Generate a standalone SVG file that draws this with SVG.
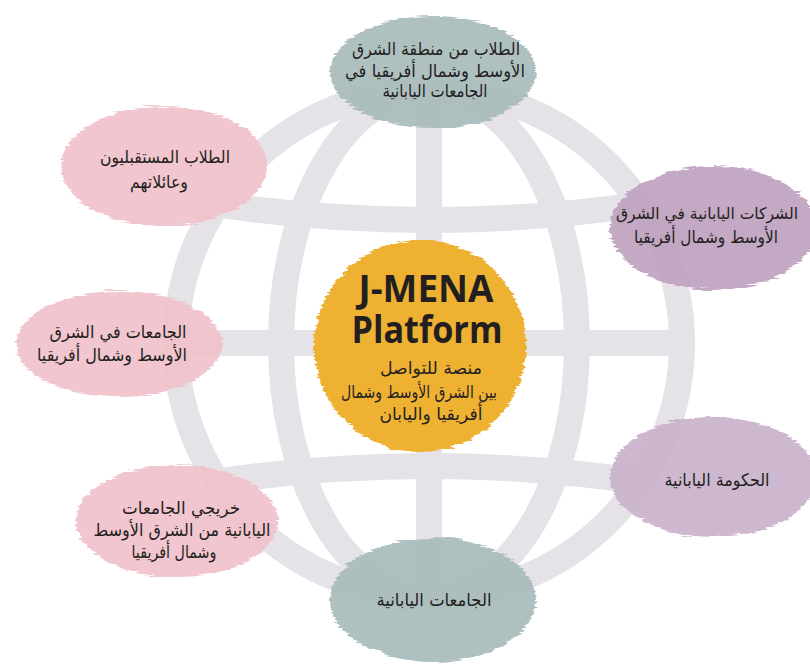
<svg xmlns="http://www.w3.org/2000/svg" width="810" height="666" viewBox="0 0 810 666">
<defs>
<style>
.g{fill:none;stroke:#e5e2e8;stroke-width:26}
.ar{font-family:"DejaVu Sans",sans-serif;font-size:17.5px;fill:#231f20;text-anchor:middle}
.teal{fill:#a8bbbc;fill-opacity:0.92}
.pink{fill:#f0c1cb;fill-opacity:0.92}
.pur1{fill:#bea2c0;fill-opacity:0.93}
.pur2{fill:#cab3cb;fill-opacity:0.93}
.title{font-family:"Open Sans","DejaVu Sans",sans-serif;font-weight:bold;font-size:37px;fill:#231f20;text-anchor:middle}
</style>
<filter id="rough" x="-10%" y="-15%" width="120%" height="130%">
<feTurbulence type="fractalNoise" baseFrequency="0.03 0.45" numOctaves="2" seed="4" result="n"/>
<feDisplacementMap in="SourceGraphic" in2="n" scale="7" xChannelSelector="R" yChannelSelector="G"/>
</filter>
</defs>
<rect width="810" height="666" fill="#ffffff"/>
<g id="globe">
<circle class="g" cx="429" cy="343" r="253"/>
<ellipse class="g" cx="429" cy="343" rx="148" ry="253"/>
<line class="g" x1="429" y1="92" x2="429" y2="594"/>
<line class="g" x1="168" y1="343" x2="690" y2="343"/>
<path class="g" d="M214,204 Q429,236 644,204"/>
<path class="g" d="M214,482 Q429,450 644,482"/>
</g>
<g id="connectors"></g>
<g id="n-top">
<ellipse class="teal" filter="url(#rough)" cx="433" cy="72" rx="103" ry="56"/>
<text class="ar" x="436" y="55" textLength="168" lengthAdjust="spacingAndGlyphs">الطلاب من منطقة الشرق</text>
<text class="ar" x="435" y="77" textLength="180" lengthAdjust="spacingAndGlyphs">الأوسط وشمال أفريقيا في</text>
<text class="ar" x="435" y="97" textLength="105" lengthAdjust="spacingAndGlyphs">الجامعات اليابانية</text>
</g>
<g id="n-future">
<ellipse class="pink" filter="url(#rough)" cx="164" cy="166" rx="103" ry="60"/>
<text class="ar" x="165" y="163" textLength="130" lengthAdjust="spacingAndGlyphs">الطلاب المستقبليون</text>
<text class="ar" x="159" y="188" textLength="58" lengthAdjust="spacingAndGlyphs">وعائلاتهم</text>
</g>
<g id="n-companies">
<ellipse class="pur1" filter="url(#rough)" cx="713" cy="228" rx="103" ry="62"/>
<text class="ar" x="707" y="219" style="font-size:16px" textLength="182" lengthAdjust="spacingAndGlyphs">الشركات اليابانية في الشرق</text>
<text class="ar" x="706" y="243" textLength="144" lengthAdjust="spacingAndGlyphs">الأوسط وشمال أفريقيا</text>
</g>
<g id="n-mena-univ">
<ellipse class="pink" filter="url(#rough)" cx="119" cy="344" rx="103" ry="53"/>
<text class="ar" x="118" y="338" textLength="137" lengthAdjust="spacingAndGlyphs">الجامعات في الشرق</text>
<text class="ar" x="112" y="361" textLength="150" lengthAdjust="spacingAndGlyphs">الأوسط وشمال أفريقيا</text>
</g>
<g id="n-gov">
<ellipse class="pur2" filter="url(#rough)" cx="713" cy="477" rx="103" ry="60"/>
<text class="ar" x="717" y="486" textLength="105" lengthAdjust="spacingAndGlyphs">الحكومة اليابانية</text>
</g>
<g id="n-alumni">
<ellipse class="pink" filter="url(#rough)" cx="177" cy="521" rx="101" ry="56"/>
<text class="ar" x="181" y="514" textLength="118" lengthAdjust="spacingAndGlyphs">خريجي الجامعات</text>
<text class="ar" x="182" y="536" textLength="177" lengthAdjust="spacingAndGlyphs">اليابانية من الشرق الأوسط</text>
<text class="ar" x="174" y="558" textLength="85" lengthAdjust="spacingAndGlyphs">وشمال أفريقيا</text>
</g>
<g id="n-jp-univ">
<ellipse class="teal" filter="url(#rough)" cx="433" cy="600" rx="103" ry="62"/>
<text class="ar" x="434" y="606" textLength="115" lengthAdjust="spacingAndGlyphs">الجامعات اليابانية</text>
</g>
<g id="n-center">
<circle fill="#eeb133" filter="url(#rough)" cx="420" cy="346" r="106"/>
<text class="title" x="426" y="302" textLength="135" lengthAdjust="spacingAndGlyphs">J-MENA</text>
<text class="title" x="427" y="343" textLength="151" lengthAdjust="spacingAndGlyphs">Platform</text>
<text class="ar" x="431" y="374" textLength="102" lengthAdjust="spacingAndGlyphs">منصة للتواصل</text>
<text class="ar" x="419" y="398" textLength="156" lengthAdjust="spacingAndGlyphs">بين الشرق الأوسط وشمال</text>
<text class="ar" x="431" y="420" textLength="103" lengthAdjust="spacingAndGlyphs">أفريقيا واليابان</text>
</g>
</svg>
